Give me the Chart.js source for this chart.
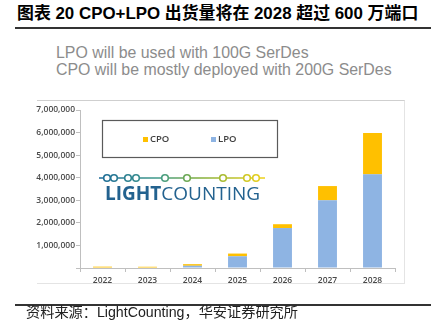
<!DOCTYPE html>
<html>
<head>
<meta charset="utf-8">
<script src="https://cdn.jsdelivr.net/npm/chart.js@4"></script>
<style>
  body { margin: 0; background: #fff; width: 431px; height: 334px; overflow: hidden; position: relative; }
  .abs { position: absolute; white-space: nowrap; }
  #title { left: 17px; top: 4px; font: bold 16.9px 'Liberation Sans', 'Noto Sans CJK SC', sans-serif; color: #000; line-height: 20px; }
  #rule1 { left: 15px; top: 27px; width: 416px; height: 1.5px; background: #333; }
  #sub { left: 56px; top: 44px; font: 15.9px 'Liberation Sans', sans-serif; color: #8c8c8c; line-height: 17px; }
  #frame { left: 37px; top: 100px; width: 367px; height: 182px; border: 1px solid #e4e4e4; border-top-color: #cfcfcf; border-left: none; }
  #rule2 { left: 15px; top: 304px; width: 416px; height: 1.5px; background: #333; }
  #src { left: 26px; top: 303px; font: 14.2px 'Liberation Sans', 'Noto Sans CJK SC', sans-serif; color: #222; line-height: 18px; }
  canvas { position: absolute; left: 0; top: 0; }
</style>
</head>
<body>
<div class="abs" id="title">图表 20 CPO+LPO 出货量将在 2028 超过 600 万端口</div>
<div class="abs" id="rule1"></div>
<div class="abs" id="sub">LPO will be used with 100G SerDes<br>CPO will be mostly deployed with 200G SerDes</div>
<div class="abs" id="frame"></div>
<canvas id="chart" width="431" height="334"></canvas>
<div class="abs" id="rule2"></div>
<div class="abs" id="src">资料来源：LightCounting，华安证券研究所</div>
<script>
const years = ['2022', '2023', '2024', '2025', '2026', '2027', '2028'];
const lpoPorts = [0, 0, 100000, 520000, 1770000, 3000000, 4150000];
const cpoPorts = [60000, 55000, 70000, 120000, 170000, 630000, 1830000];
const yTicks = [0, 1000000, 2000000, 3000000, 4000000, 5000000, 6000000, 7000000];

const tickFont = { family: "'Open Sans', sans-serif", size: 8.5, weight: '600' };

// legend box + LightCounting logo drawn inside the plot
const overlay = {
  id: 'overlay',
  afterDraw(chart) {
    const c = chart.ctx;
    const a = chart.chartArea;
    c.save();

    // legend box
    const bx = a.left + 22, by = a.top + 10;
    c.strokeStyle = '#5a5a5a';
    c.lineWidth = 1.2;
    c.strokeRect(bx + 0.5, by + 0.5, 175, 37);
    c.font = "600 9.5px 'Open Sans', sans-serif";
    c.textBaseline = 'middle';
    const items = chart.data.datasets.slice().reverse();
    items.forEach((ds, i) => {
      const x = bx + 41 + i * 68;
      c.fillStyle = ds.backgroundColor;
      c.fillRect(x, by + 17, 5, 5);
      c.fillStyle = '#404040';
      c.fillText(ds.label, x + 7, by + 19.5);
    });

    // logo line with circles
    const lx = a.left + 19, ly = a.top + 68, lw = 166;
    const g = c.createLinearGradient(lx, 0, lx + lw, 0);
    g.addColorStop(0, '#1d6a97');
    g.addColorStop(0.35, '#3f9a8a');
    g.addColorStop(0.6, '#7fae3e');
    g.addColorStop(1, '#f0d21a');
    c.strokeStyle = g;
    c.lineWidth = 1.6;
    c.beginPath();
    c.moveTo(lx, ly);
    c.lineTo(lx + lw, ly);
    c.stroke();
    [8, 15, 29, 37, 66, 88, 124, 148, 157].forEach(d => {
      c.beginPath();
      c.arc(lx + d, ly, 3.3, 0, Math.PI * 2);
      c.fillStyle = '#fff';
      c.fill();
      c.stroke();
    });

    c.fillStyle = '#23628f';
    c.textBaseline = 'alphabetic';
    c.font = "bold 19px 'Open Sans', sans-serif";
    const tx = a.left + 25, ty = a.top + 90;
    c.fillText('LIGHT', tx, ty);
    const w = c.measureText('LIGHT').width;
    c.font = "19px 'Open Sans', sans-serif";
    c.fillText('COUNTING', tx + w, ty);
    c.restore();
  }
};

new Chart(document.getElementById('chart'), {
  type: 'bar',
  data: {
    labels: years,
    datasets: [
      { label: 'LPO', data: lpoPorts, backgroundColor: '#8eb4e3' },
      { label: 'CPO', data: cpoPorts, backgroundColor: '#ffc000' }
    ]
  },
  options: {
    responsive: false,
    animation: false,
    layout: { padding: { left: 0, top: 110, right: 36, bottom: 0 } },
    datasets: { bar: { barPercentage: 0.42, categoryPercentage: 1 } },
    plugins: { legend: { display: false }, tooltip: { enabled: false } },
    scales: {
      x: {
        stacked: true,
        afterFit: s => { s.height = 66; },
        grid: { drawOnChartArea: false, tickLength: 4, color: '#bfbfbf' },
        border: { color: '#bfbfbf' },
        ticks: { color: '#4a4a4a', font: tickFont, padding: 3 }
      },
      y: {
        stacked: true,
        min: 0,
        max: 7000000,
        afterFit: s => { s.width = 80; },
        afterBuildTicks: s => { s.ticks = yTicks.map(v => ({ value: v })); },
        grid: { drawOnChartArea: false, tickLength: 4, color: '#bfbfbf' },
        border: { color: '#bfbfbf' },
        ticks: {
          color: '#4a4a4a',
          font: tickFont,
          padding: 1,
          callback: v => v === 0 ? '' : v.toLocaleString('en-US')
        }
      }
    }
  },
  plugins: [overlay]
});
</script>
</body>
</html>
